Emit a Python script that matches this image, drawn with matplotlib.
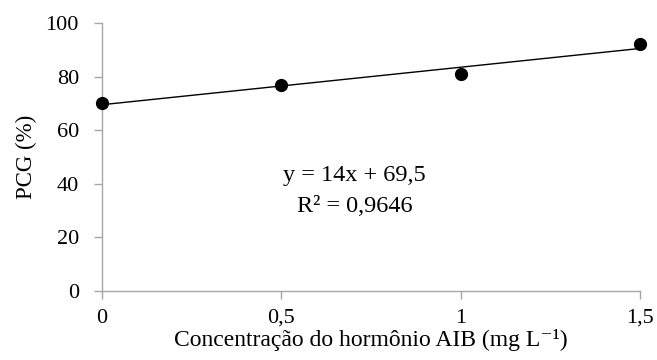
import matplotlib
matplotlib.use("Agg")
import matplotlib.pyplot as plt
import numpy as np

plt.rcParams['font.family'] = ['Liberation Serif', 'DejaVu Serif']

x_vals = [0, 0.5, 1, 1.5]
y_vals = [70, 77, 81, 92]
slope = 14
intercept = 69.5
x_ticks = [0, 0.5, 1, 1.5]
x_tick_labels = ['0', '0,5', '1', '1,5']
y_ticks = [0, 20, 40, 60, 80, 100]

fig = plt.figure(figsize=(6.57, 3.6), dpi=100)
ax = fig.add_axes([0.155, 0.192, 0.819, 0.744])

xl = np.array([x_vals[0], x_vals[-1]])
ax.plot(xl, slope * xl + intercept, color='black', lw=1.0, zorder=2)
ax.plot(x_vals, y_vals, 'o', color='black', markersize=8.5, zorder=3, clip_on=False)

ax.set_xlim(0, 1.5)
ax.set_ylim(0, 100)
ax.set_xticks(x_ticks)
ax.set_xticklabels(x_tick_labels)
ax.set_yticks(y_ticks)

for s in ['top', 'right']:
    ax.spines[s].set_visible(False)
for s in ['left', 'bottom']:
    ax.spines[s].set_color('#a6a6a6')
    ax.spines[s].set_linewidth(1.0)
ax.tick_params(axis='both', direction='out', length=6, width=1.0, color='#a6a6a6',
               labelsize=16, labelcolor='black')
ax.tick_params(axis='x', pad=7)
ax.tick_params(axis='y', pad=10.5)

ax.set_xlabel('Concentração do hormônio AIB (mg L⁻¹)', fontsize=17, va='center')
ax.xaxis.set_label_coords(0.5, -0.183)
ax.set_ylabel('PCG (%)', fontsize=16.5, va='center')
ax.yaxis.set_label_coords(-0.14, 0.5)

ax.text(0.705, 43, 'y = 14x + 69,5', ha='center', va='center', fontsize=17.5)
ax.text(0.705, 31.5, 'R² = 0,9646', ha='center', va='center', fontsize=17.5)

fig.savefig('out.png', dpi=100)
